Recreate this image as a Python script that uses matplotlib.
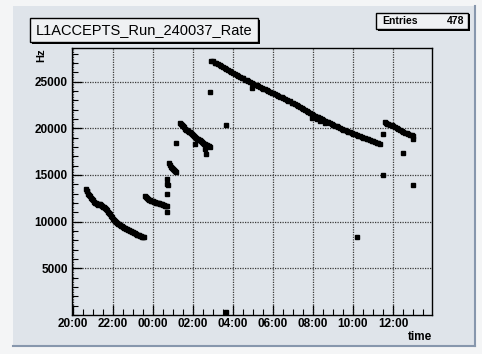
import matplotlib
matplotlib.use("Agg")
import matplotlib.pyplot as plt
from matplotlib.patches import Rectangle
from matplotlib.lines import Line2D
from matplotlib.ticker import FuncFormatter, MultipleLocator
import numpy as np

# time in minutes after 20:00, rate in Hz
seg1_t = [41, 42, 44, 47, 50, 53, 56, 59, 62, 65, 68, 71, 74, 77, 80, 83, 86, 89, 92, 95,
          98, 101, 104, 107, 110, 113, 116, 119, 122, 125, 128, 131, 134, 137, 140, 143,
          146, 149, 152, 155, 158, 161, 164, 167, 170, 173, 176, 179, 182, 185, 188, 191,
          194, 197, 200, 203, 206, 209, 212, 215]
seg1_hz = [13540, 13300, 13250, 13000, 12850, 12700, 12550, 12400, 12300, 12150, 12050, 11950,
           11850, 11780, 11900, 11850, 11800, 11700, 11620, 11580, 11450, 11350, 11200, 11080,
           10950, 10800, 10620, 10450, 10330, 10200, 10100, 9990, 9890, 9800, 9700, 9620,
           9550, 9480, 9420, 9360, 9310, 9260, 9200, 9150, 9100, 9040, 8990, 8940, 8880,
           8800, 8740, 8680, 8620, 8560, 8520, 8480, 8430, 8390, 8360, 8310]

seg2_t = [216, 219, 222, 225, 228, 231, 234, 237, 240, 243, 246, 249, 252, 255, 258, 261,
          264, 267, 270, 273, 276, 279, 282]
seg2_hz = [12800, 12600, 12500, 12450, 12350, 12300, 12250, 12200, 12180, 12120, 12100, 12050,
           12000, 11980, 11950, 11920, 11880, 11840, 11800, 11760, 11720, 11680, 11640]

seg3_t = [290, 292, 295, 298, 301, 304, 307, 310]
seg3_hz = [16250, 16050, 15900, 15750, 15650, 15550, 15450, 15350]

seg4_t = [321, 324, 327, 330, 333, 336, 339, 342, 345, 348, 351, 354, 357, 360, 363, 366,
          369, 372, 375, 378, 381, 384, 387, 390, 393, 396, 399, 402, 405, 408, 411]
seg4_hz = [20600, 20450, 20300, 20200, 20100, 19950, 19850, 19800, 19700, 19650, 19550, 19450,
           19350, 19250, 19150, 19050, 18950, 18900, 18850, 18750, 18700, 18600, 18500, 18450,
           18350, 18300, 18250, 18200, 18150, 18100, 18000]

seg5_t = [416, 421, 426, 431, 436, 441, 446, 451, 456, 461, 466, 471, 476, 481, 486, 491,
          496, 501, 506, 511, 516, 521, 526, 531, 536, 537, 541, 546, 551, 556, 561, 566,
          571, 576, 581, 586, 591, 596, 601, 606, 611, 616, 621, 626, 631, 636, 641, 646,
          651, 656, 661, 666, 671, 676, 681, 686, 691, 696, 701, 706, 711, 716, 716, 721,
          726, 731, 731, 736, 741, 741, 746, 751, 756, 756, 761, 766, 771, 776, 781, 786,
          791, 796, 801, 806, 811, 816, 821, 826, 831, 836, 841, 846, 851, 856, 861, 866,
          871, 876, 881, 886, 891, 896, 901, 906, 911, 916, 921]
seg5_hz = [27250, 27160, 27040, 26960, 26840, 26750, 26640, 26560, 26440, 26350, 26230, 26150,
           26020, 25950, 25820, 25760, 25630, 25540, 25420, 25350, 25220, 25140, 25020, 24930,
           24850, 24350, 24760, 24690, 24590, 24510, 24420, 24350, 24250, 24170, 24090, 23990,
           23920, 23830, 23740, 23660, 23570, 23490, 23400, 23320, 23230, 23150, 23060, 22970,
           22870, 22760, 22660, 22550, 22450, 22340, 22240, 22130, 22030, 21920, 21820, 21710,
           21610, 21500, 21150, 21420, 21330, 21250, 20950, 21160, 21070, 20800, 20980, 20900,
           20810, 20550, 20720, 20640, 20550, 20460, 20380, 20290, 20200, 20120, 20030, 19950,
           19860, 19780, 19700, 19630, 19560, 19490, 19420, 19360, 19290, 19220, 19150, 19080,
           19010, 18940, 18870, 18800, 18740, 18670, 18600, 18530, 18460, 18400, 18330]

seg6_t = [936, 939, 942, 946, 951, 956, 961, 966, 971, 976, 981, 986, 991, 996, 1001, 1006,
          1011, 1016, 1021, 1021]
seg6_hz = [20650, 20550, 20500, 20450, 20380, 20300, 20200, 20120, 20020, 19950, 19800, 19700,
           19580, 19500, 19450, 19350, 19300, 19250, 19200, 18850]

outlier_t = [283, 283, 284, 284, 285, 311, 366, 396, 399, 413, 459, 461, 853, 929, 931, 991, 1021]
outlier_hz = [13000, 11040, 14600, 14070, 13900, 18450, 18270, 17810, 17280, 23860, 20400,
              290, 8370, 19340, 14960, 17340, 13960]

hour_ticks = [0, 120, 240, 360, 480, 600, 720, 840, 960]
hz_ticks = [5000, 10000, 15000, 20000, 25000]
entries = 478

PAD = "#dfe4ea"
FONT = "Liberation Sans"


def clock(m, _pos=None):
    m = int(round(m))
    return f"{(20 + m // 60) % 24:02d}:{m % 60:02d}"


def main() -> None:
    fig = plt.figure(figsize=(4.82, 3.54), dpi=100)
    fig.patch.set_facecolor("#f4f5f6")
    W, H = 482.0, 354.0

    # canvas pad with bevel, kept behind the axes
    fig.patches.append(Rectangle((13 / W, 1 - 346 / H), 462 / W, 340 / H,
                                 transform=fig.transFigure, facecolor=PAD,
                                 edgecolor="none", zorder=-5))
    fig.lines.append(Line2D([13 / W, 475 / W], [1 - 346 / H] * 2, transform=fig.transFigure,
                            color="#8797ad", lw=1.5, zorder=-4))
    fig.lines.append(Line2D([475 / W] * 2, [1 - 346 / H, 1 - 6 / H], transform=fig.transFigure,
                            color="#8797ad", lw=1.5, zorder=-4))

    ax = fig.add_axes([72 / W, 1 - 315 / H, 359.7 / W, 267 / H])
    ax.set_zorder(1)
    ax.set_facecolor(PAD)

    t = np.concatenate([seg1_t, seg2_t, seg3_t, seg4_t, seg5_t, seg6_t, outlier_t])
    hz = np.concatenate([seg1_hz, seg2_hz, seg3_hz, seg4_hz, seg5_hz, seg6_hz, outlier_hz])
    ax.plot(t, hz, linestyle="none", marker="s", markersize=2.3, color="black", zorder=3)

    ax.set_xlim(-2, 1076)
    ax.set_ylim(0, 28600)
    ax.set_xticks(hour_ticks)
    ax.xaxis.set_major_formatter(FuncFormatter(clock))
    ax.xaxis.set_minor_locator(MultipleLocator(30))
    ax.set_yticks(hz_ticks)
    ax.yaxis.set_minor_locator(MultipleLocator(1000))

    ax.grid(True, which="major", color="#3a3a3a", linestyle=(0, (1, 1)), linewidth=0.9)
    ax.tick_params(which="major", direction="in", length=7, width=0.9, pad=2)
    ax.tick_params(which="minor", direction="in", length=4, width=0.8)
    ax.tick_params(axis="y", which="major", pad=3)
    for lab in ax.get_xticklabels() + ax.get_yticklabels():
        lab.set_fontfamily(FONT)
        lab.set_fontweight("bold")
        lab.set_fontsize(8.5)
    for sp in ax.spines.values():
        sp.set_linewidth(1.0)

    fig.text(41.5 / W, 1 - 55 / H, "Hz", rotation=90, ha="center", va="center",
             fontfamily=FONT, fontweight="bold", fontsize=8)
    fig.text(432 / W, 1 - 337 / H, "time", ha="right", va="center",
             fontfamily=FONT, fontweight="bold", fontsize=8.5)

    # title box with shadow
    x0, y0, x1, y1 = 30, 18, 258, 42
    fig.patches.append(Rectangle(((x0 + 2) / W, 1 - (y1 + 2) / H), (x1 - x0) / W, (y1 - y0) / H,
                                 transform=fig.transFigure, facecolor="black", zorder=5))
    fig.patches.append(Rectangle((x0 / W, 1 - y1 / H), (x1 - x0) / W, (y1 - y0) / H,
                                 transform=fig.transFigure, facecolor="#eff1f3",
                                 edgecolor="black", lw=1, zorder=6))
    fig.text((x0 + x1) / 2 / W, 1 - (y0 + y1) / 2 / H, "L1ACCEPTS_Run_240037_Rate",
             ha="center", va="center", fontfamily=FONT, fontsize=10.5, zorder=7)

    # stats box
    s0, r0, s1, r1 = 376, 13, 468, 29
    fig.patches.append(Rectangle(((s0 + 1.5) / W, 1 - (r1 + 1.5) / H), (s1 - s0) / W, (r1 - r0) / H,
                                 transform=fig.transFigure, facecolor="black", zorder=5))
    fig.patches.append(Rectangle((s0 / W, 1 - r1 / H), (s1 - s0) / W, (r1 - r0) / H,
                                 transform=fig.transFigure, facecolor="#eff1f3",
                                 edgecolor="black", lw=1, zorder=6))
    fig.text(382 / W, 1 - 21 / H, "Entries", ha="left", va="center",
             fontfamily=FONT, fontweight="bold", fontsize=7.5, zorder=7)
    fig.text(464 / W, 1 - 21 / H, str(entries), ha="right", va="center",
             fontfamily=FONT, fontweight="bold", fontsize=7.5, zorder=7)

    fig.savefig("out.png", dpi=100, facecolor=fig.get_facecolor())
    plt.close(fig)


if __name__ == "__main__":
    main()
